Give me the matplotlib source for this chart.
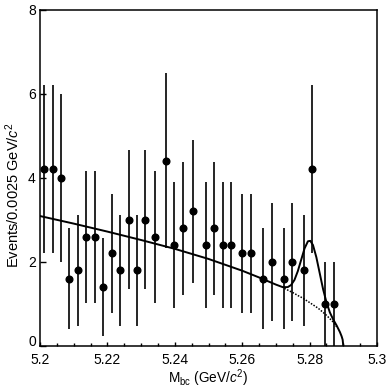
import matplotlib.pyplot as plt
import numpy as np

plt.rcParams['font.family'] = ['Liberation Sans', 'DejaVu Sans']
plt.rcParams['mathtext.fontset'] = 'custom'
plt.rcParams['mathtext.rm'] = 'Liberation Sans'
plt.rcParams['mathtext.it'] = 'Liberation Sans:italic'

# data points
mbc = [5.2013, 5.2038, 5.2062, 5.2087, 5.2113, 5.2137, 5.2163, 5.2188,
       5.2214, 5.2237, 5.2263, 5.2287, 5.2313, 5.2341, 5.2373, 5.2397,
       5.2423, 5.2455, 5.2494, 5.2517, 5.2543, 5.2568, 5.2599, 5.2627,
       5.2663, 5.2688, 5.2723, 5.2748, 5.2783, 5.2806, 5.2847, 5.2872]
events = [4.2, 4.2, 4.0, 1.6, 1.8, 2.6, 2.6, 1.4,
          2.2, 1.8, 3.0, 1.8, 3.0, 2.6, 4.4, 2.4,
          2.8, 3.2, 2.4, 2.8, 2.4, 2.4, 2.2, 2.2,
          1.6, 2.0, 1.6, 2.0, 1.8, 4.2, 1.0, 1.0]
errors = [2.0, 2.0, 2.0, 1.2, 1.32, 1.57, 1.57, 1.16,
          1.42, 1.32, 1.65, 1.32, 1.65, 1.57, 2.08, 1.5,
          1.58, 1.7, 1.5, 1.58, 1.5, 1.5, 1.42, 1.42,
          1.2, 1.4, 1.2, 1.4, 1.32, 2.0, 1.0, 1.0]

# total fit curve (solid), vertices
fit_x = [5.2000, 5.2100, 5.2200, 5.2300, 5.2400, 5.2500, 5.2550, 5.2600,
         5.2650, 5.2700, 5.2720, 5.2735, 5.2745, 5.2755, 5.2765, 5.2775,
         5.2785, 5.2795, 5.2802, 5.2810, 5.2820, 5.2830, 5.2840, 5.2850,
         5.2860, 5.2870, 5.2880, 5.2890, 5.2895, 5.2898, 5.2900]
fit_y = [3.09, 2.91, 2.72, 2.52, 2.31, 2.07, 1.93, 1.79,
         1.63, 1.46, 1.40, 1.40, 1.45, 1.57, 1.78, 2.05,
         2.32, 2.49, 2.50, 2.40, 2.11, 1.73, 1.35, 1.04,
         0.80, 0.63, 0.49, 0.33, 0.23, 0.15, 0.0]

# background only (dotted) under the peak
bkg_x = [5.2725, 5.2735, 5.2745, 5.2755, 5.2765, 5.2775, 5.2785, 5.2795,
         5.2810, 5.2825, 5.2840, 5.2850, 5.2860, 5.2870, 5.2880]
bkg_y = [1.37, 1.33, 1.29, 1.25, 1.20, 1.16, 1.11, 1.06,
         0.98, 0.90, 0.80, 0.73, 0.65, 0.57, 0.46]


def draw_mbc(ax):
    ax.errorbar(mbc, events, yerr=errors, fmt='o', color='black',
                markersize=4.8, elinewidth=1.2, capsize=0)
    ax.plot(fit_x, fit_y, color='black', lw=1.4)
    ax.plot(bkg_x, bkg_y, color='black', lw=1.1, linestyle=(0, (1, 1)))

    ax.set_xlim(5.2, 5.3)
    ax.set_ylim(0, 8)
    ax.set_xticks([5.2, 5.22, 5.24, 5.26, 5.28, 5.3])
    ax.set_xticklabels(['5.2', '5.22', '5.24', '5.26', '5.28', '5.3'])
    ax.set_xticks(np.arange(5.2, 5.3001, 0.005), minor=True)
    ax.set_yticks([0, 2, 4, 6, 8])
    ax.tick_params(direction='in', length=3, width=1, labelsize=10,
                   top=False, right=False)
    ax.tick_params(which='minor', direction='in', length=2.5, width=1,
                   top=False, right=False)
    ax.tick_params(axis='x', pad=5)
    ax.tick_params(axis='y', length=4, pad=3)
    ax.get_yticklabels()[0].set_va('baseline')
    for s in ax.spines.values():
        s.set_linewidth(1.1)

    ax.set_xlabel(r'M$_{\rm bc}$ (GeV/$c^2$)', fontsize=9.8)
    ax.xaxis.set_label_coords(0.5, -0.064)
    ax.set_ylabel(r'Events/0.0025 GeV/$c^2$', fontsize=10.5, va='center')
    ax.yaxis.set_label_coords(-0.080, 0.45)


if __name__ == '__main__':
    fig = plt.figure(figsize=(3.87, 3.90), dpi=100)
    ax = fig.add_axes([0.1034, 0.1128, 0.8708, 0.8628])
    draw_mbc(ax)
    fig.savefig('out.png', dpi=100)
